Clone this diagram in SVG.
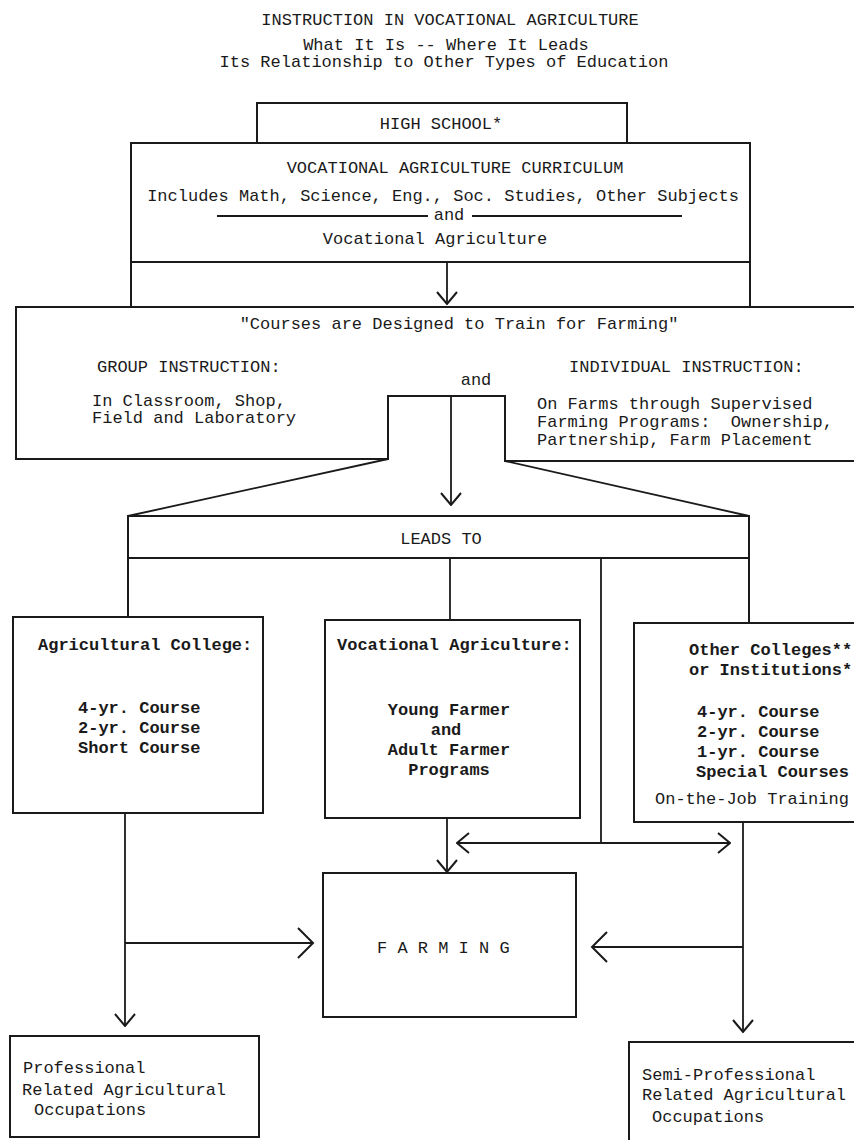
<svg xmlns="http://www.w3.org/2000/svg" width="854" height="1140" viewBox="0 0 854 1140">
<defs>
<style>
text { font-family: "Liberation Mono", "Courier New", monospace; font-size: 17px; fill: #1a1a1a; white-space: pre; }
.c { text-anchor: middle; }
.b { font-weight: bold; }
.box { fill: none; stroke: #1a1a1a; stroke-width: 2; }
.ln { fill: none; stroke: #1a1a1a; stroke-width: 1.8; }
.arw { marker-end: url(#ah); }
.arwL { marker-end: url(#ahL); }
</style>
<marker id="ah" markerUnits="userSpaceOnUse" viewBox="0 0 14 22" refX="13" refY="11" markerWidth="14" markerHeight="22" orient="auto-start-reverse">
<path d="M1,1 L13,11 L1,21" fill="none" stroke="#1a1a1a" stroke-width="2"/>
</marker>
<marker id="ahL" markerUnits="userSpaceOnUse" viewBox="0 0 18 32" refX="16" refY="16" markerWidth="18" markerHeight="32" orient="auto-start-reverse">
<path d="M1,1 L16,16 L1,31" fill="none" stroke="#1a1a1a" stroke-width="2"/>
</marker>
</defs>
<rect x="0" y="0" width="854" height="1140" fill="#ffffff"/>

<g id="title">
<text class="c" x="450" y="25">INSTRUCTION IN VOCATIONAL AGRICULTURE</text>
<text class="c" x="446" y="50">What It Is -- Where It Leads</text>
<text class="c" x="444" y="67">Its Relationship to Other Types of Education</text>
</g>

<g id="high-school">
<path class="box" d="M257,143 V103 H627 V143"/>
<text class="c" x="441" y="129">HIGH SCHOOL*</text>
</g>

<g id="va-curriculum">
<path class="box" d="M131,307 V143 H750 V307 M131,262 H750"/>
<text class="c" x="455" y="173">VOCATIONAL AGRICULTURE CURRICULUM</text>
<text class="c" x="443" y="201">Includes Math, Science, Eng., Soc. Studies, Other Subjects</text>
<path class="ln" d="M217,216 H428 M472,216 H682"/>
<text class="c" x="449" y="220">and</text>
<text class="c" x="435" y="244">Vocational Agriculture</text>
</g>

<g id="courses">
<path class="box" d="M870,307 H16 V459 H388 V396 H505 V461 H870"/>
<text class="c" x="459" y="329">"Courses are Designed to Train for Farming"</text>
<text x="97" y="372">GROUP INSTRUCTION:</text>
<text x="569" y="372">INDIVIDUAL INSTRUCTION:</text>
<text class="c" x="476" y="385">and</text>
<text x="92" y="406">In Classroom, Shop,</text>
<text x="92" y="423">Field and Laboratory</text>
<text x="537" y="409">On Farms through Supervised</text>
<text x="537" y="427">Farming Programs:  Ownership,</text>
<text x="537" y="445">Partnership, Farm Placement</text>
</g>

<g id="leads-to">
<path class="box" d="M128,617 V516 H749 V623 M128,558 H749"/>
<text class="c" x="441" y="544">LEADS TO</text>
</g>

<g id="ag-college">
<rect class="box" x="13" y="617" width="250" height="196"/>
<text class="b" x="38" y="650">Agricultural College:</text>
<text class="b" x="78" y="713">4-yr. Course</text>
<text class="b" x="78" y="733">2-yr. Course</text>
<text class="b" x="78" y="753">Short Course</text>
</g>

<g id="voc-ag">
<rect class="box" x="325" y="620" width="255" height="198"/>
<text class="b" x="337" y="650">Vocational Agriculture:</text>
<text class="b c" x="449" y="715">Young Farmer</text>
<text class="b c" x="446" y="735">and</text>
<text class="b c" x="449" y="755">Adult Farmer</text>
<text class="b c" x="449" y="775">Programs</text>
</g>

<g id="other-colleges">
<rect class="box" x="634" y="623" width="240" height="199"/>
<text class="b" x="689" y="655">Other Colleges**</text>
<text class="b" x="689" y="675">or Institutions*</text>
<text class="b" x="697" y="717">4-yr. Course</text>
<text class="b" x="697" y="737">2-yr. Course</text>
<text class="b" x="697" y="757">1-yr. Course</text>
<text class="b" x="696" y="777">Special Courses</text>
<text x="655" y="804">On-the-Job Training</text>
</g>

<g id="farming">
<rect class="box" x="323" y="873" width="253" height="144"/>
<text x="377" y="953">F A R M I N G</text>
</g>

<g id="professional">
<rect class="box" x="10" y="1036" width="249" height="101"/>
<text x="23" y="1073">Professional</text>
<text x="22" y="1095">Related Agricultural</text>
<text x="34" y="1115">Occupations</text>
</g>

<g id="semi-professional">
<rect class="box" x="629" y="1042" width="240" height="120"/>
<text x="642" y="1080">Semi-Professional</text>
<text x="642" y="1100">Related Agricultural</text>
<text x="652" y="1122">Occupations</text>
</g>

<g id="connectors">
<path class="ln arw" d="M447,262 V304"/>
<path class="ln arw" d="M451,396 V505"/>
<path class="ln" d="M388,459 L128,516"/>
<path class="ln" d="M505,461 L749,516"/>
<path class="ln" d="M450,558 V620"/>
<path class="ln" d="M601,558 V843"/>
<path class="ln" d="M457,843 H730" marker-start="url(#ah)" marker-end="url(#ah)"/>
<path class="ln arw" d="M447,818 V872"/>
<path class="ln arw" d="M125,813 V1026"/>
<path class="ln arwL" d="M125,943 H313"/>
<path class="ln arw" d="M743,822 V1032"/>
<path class="ln arwL" d="M743,947 H592"/>
</g>
</svg>
